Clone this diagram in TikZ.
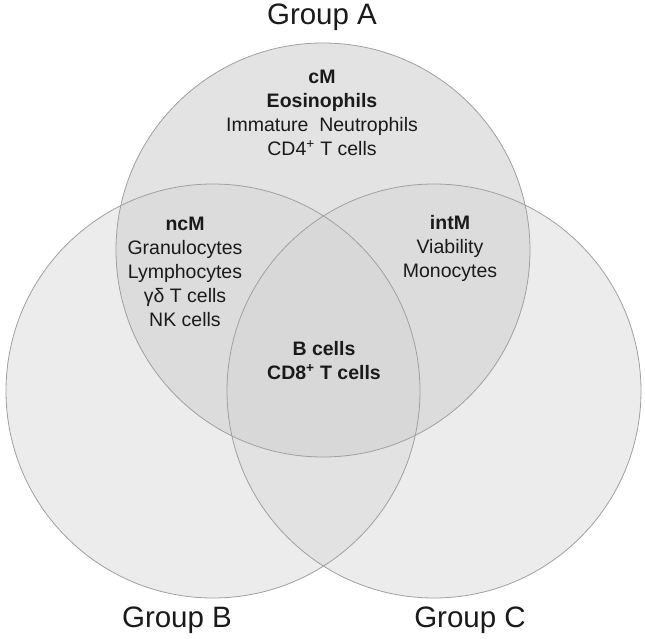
\documentclass[tikz,border=0pt]{standalone}
\usepackage{fontspec}
\setmainfont{Liberation Sans}
\definecolor{fillOne}{HTML}{ECECEC}
\definecolor{fillA}{HTML}{E3E3E3}
\definecolor{fillTwo}{HTML}{DCDCDC}
\definecolor{fillBC}{HTML}{E2E2E2}
\definecolor{fillThree}{HTML}{D8D8D8}
\definecolor{edgeGray}{HTML}{A0A0A0}
\definecolor{txt}{HTML}{1A1A1A}
\begin{document}
\begin{tikzpicture}[x=1pt,y=-1pt,
  inner/.style={text=txt,align=center,inner sep=0pt,font=\fontsize{19.5}{24}\selectfont},
  grp/.style={text=txt,inner sep=0pt,font=\fontsize{29.5}{34}\selectfont},
  ring/.style={draw=edgeGray,line width=0.8pt}]
\useasboundingbox (0,0) rectangle (645,639);
\coordinate (cA) at (323,250);
\coordinate (cB) at (213,391);
\coordinate (cC) at (434,391);
\def\rr{207pt}
% base fills
\fill[fillOne] (cB) circle[radius=\rr];
\fill[fillOne] (cC) circle[radius=\rr];
\fill[fillA] (cA) circle[radius=\rr];
\begin{scope}
  \clip (cB) circle[radius=\rr];
  \fill[fillBC] (cC) circle[radius=\rr];
\end{scope}
\begin{scope}
  \clip (cA) circle[radius=\rr];
  \fill[fillTwo] (cB) circle[radius=\rr];
  \fill[fillTwo] (cC) circle[radius=\rr];
\end{scope}
\begin{scope}
  \clip (cA) circle[radius=\rr];
  \clip (cB) circle[radius=\rr];
  \fill[fillThree] (cC) circle[radius=\rr];
\end{scope}
% outlines
\draw[ring] (cA) circle[radius=\rr];
\draw[ring] (cB) circle[radius=\rr];
\draw[ring] (cC) circle[radius=\rr];
% labels
\node[grp] (gA) at (322,17) {Group A};
\node[grp] (gB) at (177,620) {Group B};
\node[grp] (gC) at (470,620) {Group C};
\node[inner] (tA) at (322,113) {\textbf{cM}\\\textbf{Eosinophils}\\Immature\ \ Neutrophils\\CD4\textsuperscript{+} T cells};
\node[inner] (tAB) at (185,272) {\textbf{ncM}\\Granulocytes\\Lymphocytes\\γδ T cells\\NK cells};
\node[inner] (tAC) at (450,248) {\textbf{intM}\\Viability\\Monocytes};
\node[inner] (tABC) at (324,361) {\textbf{B cells}\\\textbf{CD8\textsuperscript{+} T cells}};
\end{tikzpicture}
\end{document}
